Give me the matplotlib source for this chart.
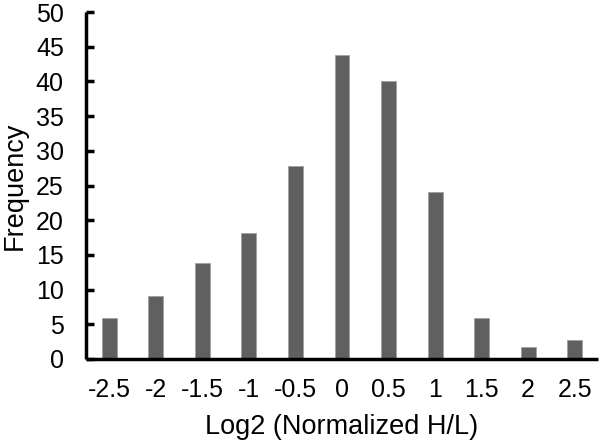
import matplotlib
matplotlib.use("Agg")
import matplotlib.pyplot as plt

plt.rcParams['font.family'] = ['Liberation Sans', 'DejaVu Sans']

# Histogram of log2 ratios
categories = ["-2.5", "-2", "-1.5", "-1", "-0.5", "0", "0.5", "1", "1.5", "2", "2.5"]
frequency = [5.9, 9.1, 13.9, 18.2, 27.8, 43.8, 40.1, 24.1, 5.9, 1.7, 2.7]
yticks = [0, 5, 10, 15, 20, 25, 30, 35, 40, 45, 50]

fig = plt.figure(figsize=(6, 4.46), dpi=100)
ax = fig.add_axes([86 / 600, 1 - 359 / 446, 512 / 600, 347 / 446])

pos = range(len(categories))
ax.bar(pos, frequency, width=0.32, color="#606060", edgecolor="#a0a0a0", linewidth=0.6)

ax.set_xlim(-0.5, len(categories) - 0.5)
ax.set_ylim(0, 50)
ax.set_yticks(yticks)
ax.set_xticks(list(pos))
ax.set_xticklabels(categories)

for side in ("top", "right"):
    ax.spines[side].set_visible(False)
for side in ("left", "bottom"):
    ax.spines[side].set_linewidth(2.5)
    ax.spines[side].set_capstyle("butt")

ax.tick_params(axis="y", direction="in", length=6, width=2.5, labelsize=18, pad=16)
ax.tick_params(axis="x", length=0, labelsize=18, pad=14)

ax.set_ylabel("Frequency", fontsize=19.5, labelpad=6)
ax.set_xlabel("Log2 (Normalized H/L)", fontsize=19.5, labelpad=8)

fig.savefig("out.png", dpi=100)
